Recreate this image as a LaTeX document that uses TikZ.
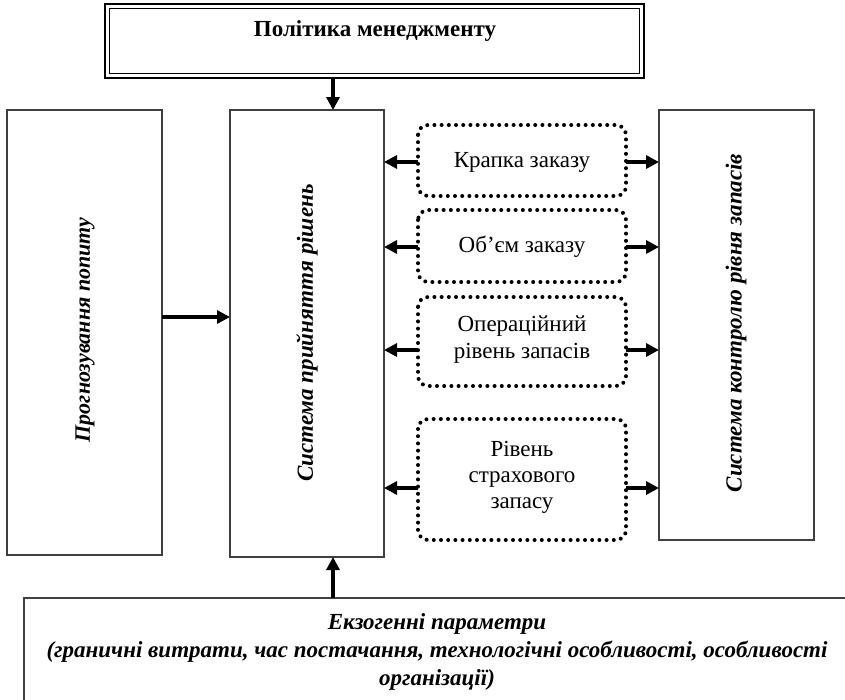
\documentclass[tikz,border=0pt]{standalone}
\usepackage{fontspec}
\setmainfont{Liberation Serif}
\usetikzlibrary{arrows.meta,calc}
\begin{document}
\begin{tikzpicture}[x=1pt,y=-1pt,
  box/.style={draw=black!75,line width=1.2pt,fill=white},
  dotbox/.style={draw=black,line width=4pt,dash pattern=on 0pt off 7.2pt,line cap=round,rounded corners=10pt},
  arr/.style={line width=3.4pt,-{Triangle[length=13pt,width=13pt]}},
  vtext/.style={rotate=90},
  ltext/.style={font=\fontsize{23}{27}\selectfont,align=center}]
\clip (0,0) rectangle (845,699);
% main blocks
\draw[line width=2pt] (105,4) rectangle (644,78);
\draw[line width=1.2pt] (109.5,8.5) rectangle (639.5,73.5);
\node[font=\fontsize{23}{26}\selectfont\bfseries] (pol) at (375,31) {Політика менеджменту};
\coordinate (polS) at (333,78);

\draw[box] (7,110) rectangle (162,555);
\node[vtext,font=\fontsize{22}{24}\selectfont\bfseries\itshape] (prog) at (85,330) {Прогнозування попиту};
\coordinate (progE) at (162,317);

\draw[box] (230,110) rectangle (384,557);
\node[vtext,font=\fontsize{23}{28}\selectfont\bfseries\itshape] (dec) at (307,333) {Система прийняття рішень};
\coordinate (decN) at (333,110);
\coordinate (decW) at (230,317);
\coordinate (decS) at (333,557);
\coordinate (decE) at (384,0);

\draw[box] (659,110) rectangle (814,540);
\node[vtext,font=\fontsize{23}{24}\selectfont\bfseries\itshape] (ctl) at (736,323) {Система контролю рівня запасів};
\coordinate (ctlW) at (659,0);

% parameter blocks
\draw[dotbox] (418,125) rectangle (626,196);
\node[ltext] (kz) at (522,162) {Крапка заказу};
\draw[dotbox] (418,210) rectangle (626,282);
\node[ltext] (oz) at (522,247) {Об’єм заказу};
\draw[dotbox] (418,297) rectangle (626,386);
\node[ltext] (orz) at (522,340) {Операційний\\рівень запасів};
\draw[dotbox] (418,419) rectangle (626,540);
\node[ltext,font=\fontsize{23}{26}\selectfont] (rsz) at (522,477) {Рівень\\страхового\\запасу};
\coordinate (kzW) at (418,162); \coordinate (kzE) at (626,162);
\coordinate (ozW) at (418,247); \coordinate (ozE) at (626,247);
\coordinate (orzW) at (418,350); \coordinate (orzE) at (626,350);
\coordinate (rszW) at (418,488); \coordinate (rszE) at (626,488);

% exogenous block
\draw[box] (24,598) rectangle (860,720);
\node[font=\fontsize{23}{28}\selectfont\bfseries\itshape,align=center] (exo) at (437,652)
  {Екзогенні параметри\\(граничні витрати, час постачання, технологічні особливості, особливості\\організації)};
\coordinate (exoN) at (333,598);

% connectors
\draw[arr] (polS) -- (decN);
\draw[arr] (progE) -- (decW);
\draw[arr] (exoN) -- (decS);
\foreach \p in {kz,oz,orz,rsz}{
  \draw[arr] (\p W) -- (decE |- \p W);
  \draw[arr] (\p E) -- (ctlW |- \p E);
}
\end{tikzpicture}
\end{document}
